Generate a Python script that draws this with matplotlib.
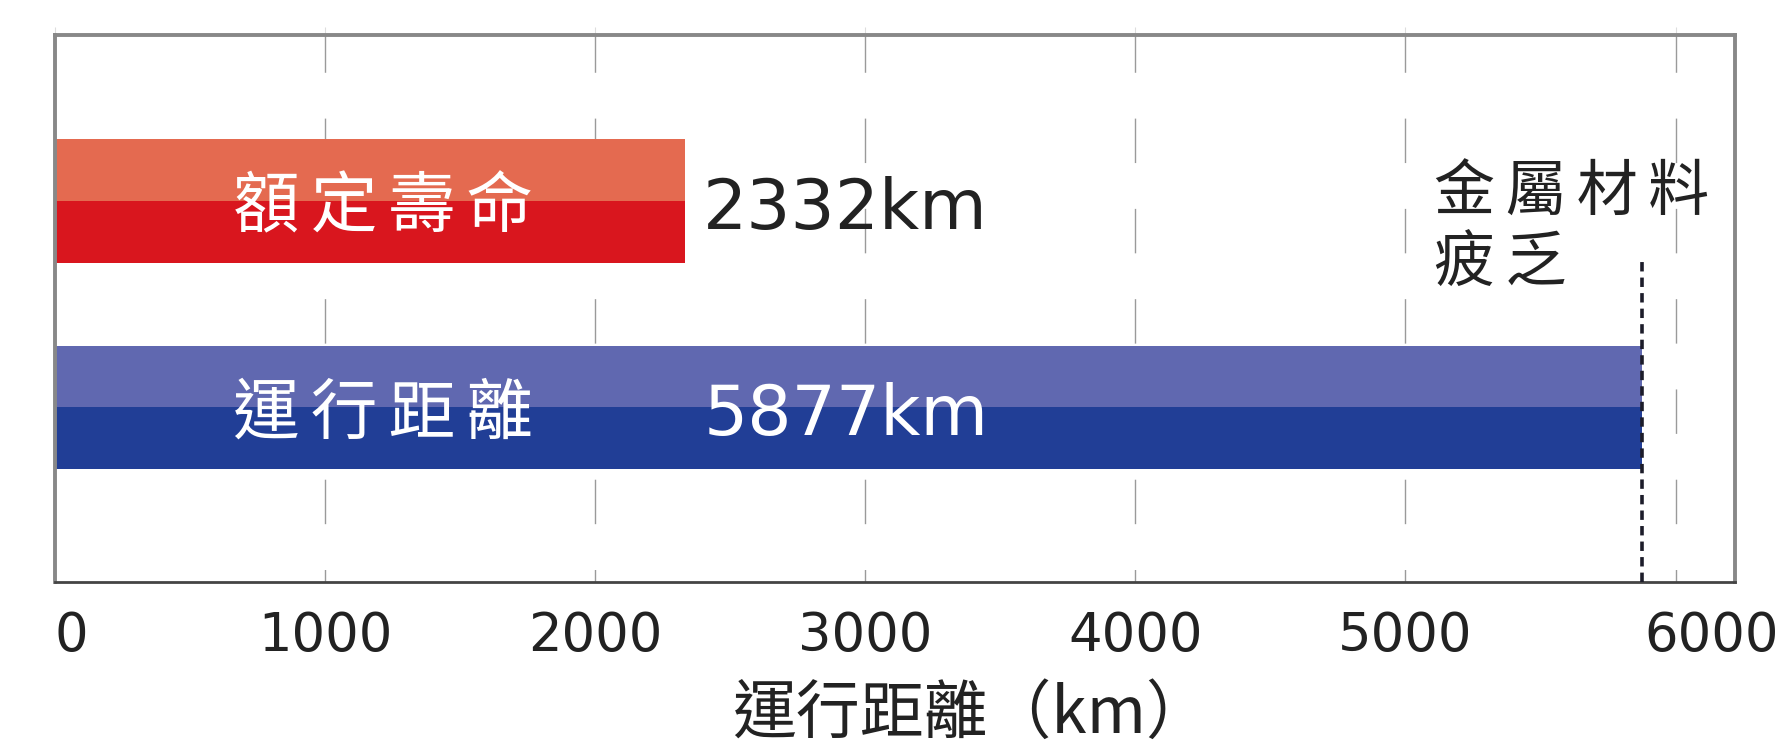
import matplotlib
matplotlib.use("Agg")
import matplotlib.pyplot as plt
from matplotlib.transforms import ScaledTranslation

plt.rcParams['font.family'] = ['DejaVu Sans', 'Noto Sans CJK TC']
cjk = ['Noto Sans CJK TC', 'DejaVu Sans']
sp = '\u2006'  # narrow gap between the CJK characters

# bars, bottom to top
names = ['運行距離', '額定壽命']
values = [5877, 2332]
value_labels = ['5877km', '2332km']
value_colors = ['white', '#222222']
top_colors = ['#6068B0', '#E46A50']
bottom_colors = ['#213E96', '#D9161E']

fatigue_km = 5877
fatigue_lines = ['金屬材料', '疲乏']
ticks = [0, 1000, 2000, 3000, 4000, 5000, 6000]

fig = plt.figure(figsize=(17.89, 7.48), dpi=100)
ax = fig.add_axes([0.0307, 0.2219, 0.9391, 0.7313])

h = 0.3  # half of a bar, each bar is two tones
for i in range(len(values)):
    ax.barh(i - h / 2, values[i], height=h, color=bottom_colors[i], zorder=2)
    ax.barh(i + h / 2, values[i], height=h, color=top_colors[i], zorder=2)
    ax.text(660, i - 0.035, sp.join(names[i]), color='white', fontsize=48,
            family=cjk, va='center', ha='left', zorder=3)
    ax.text(2400, i - 0.04, value_labels[i], color=value_colors[i],
            fontsize=50, va='center', ha='left', zorder=3)

# fatigue limit marker
ax.axvline(fatigue_km, ymin=0, ymax=0.594, color='#1c1c2a', lw=2.6,
           linestyle=(0, (2.6, 1.7)), zorder=4)
ax.text(5107, 1.037, sp.join(fatigue_lines[0]), fontsize=44, family=cjk,
        color='#222222', va='center', ha='left')
ax.text(5107, 0.694, sp.join(fatigue_lines[1]), fontsize=44, family=cjk,
        color='#222222', va='center', ha='left')

ax.set_xlim(0, 6220)
ax.set_ylim(-0.847, 1.806)
ax.set_xticks(ticks)
ax.set_xticklabels([str(t) for t in ticks])
ax.set_yticks([])
ax.set_axisbelow(True)
ax.xaxis.grid(True, color='#9a9a9a', lw=1.0, linestyle=(23, (32, 33)))

ax.tick_params(axis='x', bottom=False, top=True, labelbottom=True,
               direction='out', length=6, color='#dddddd',
               labelsize=38, pad=14, labelcolor='#222222')

# end labels sit a little right of their gridlines
labels = ax.get_xticklabels()
for lab, dx in [(labels[0], 12), (labels[-1], 26)]:
    lab.set_transform(lab.get_transform()
                      + ScaledTranslation(dx / 72, 0, fig.dpi_scale_trans))

for side in ['top', 'right', 'left']:
    ax.spines[side].set_color('#888888')
    ax.spines[side].set_linewidth(2.8)
ax.spines['bottom'].set_color('#444444')
ax.spines['bottom'].set_linewidth(2.0)

ax.set_xlabel('運行距離（km）', fontsize=46, family=cjk, color='#222222')
ax.xaxis.set_label_coords(0.545, -0.182)

fig.savefig('out.png', dpi=100)
